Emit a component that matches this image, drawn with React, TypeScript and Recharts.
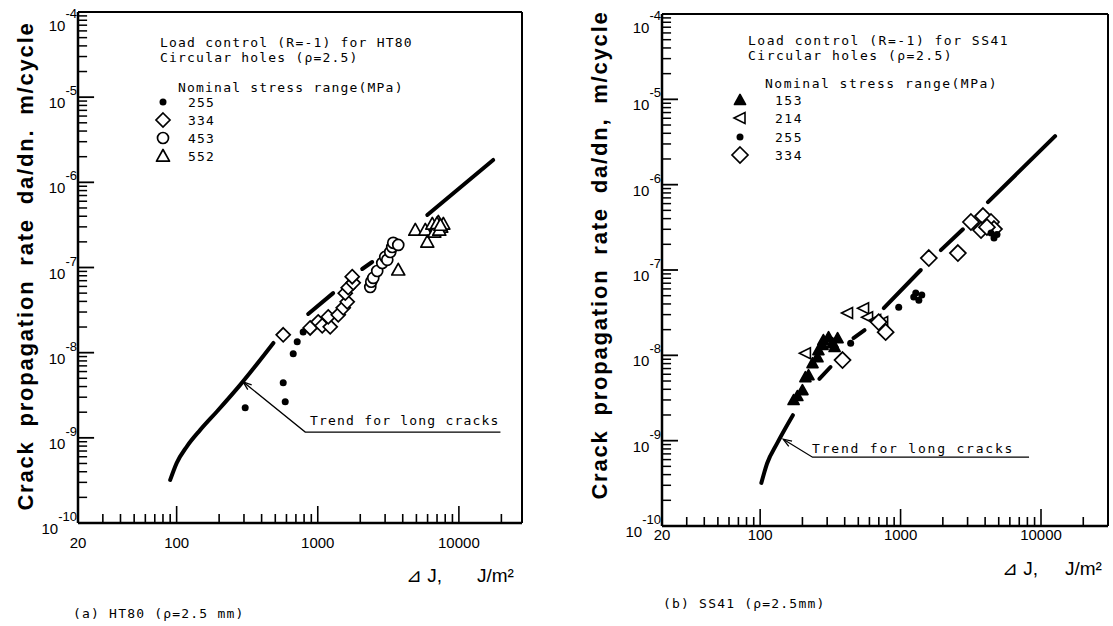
import React from 'react';
import { ComposedChart, Scatter, Line, XAxis, YAxis, ReferenceLine } from 'recharts';

type Pt = { x: number; y: number };

// axis ticks
const xLabelTicks = [20, 100, 1000, 10000];
const xMajorTicks = [100, 1000, 10000];
const xMinorTicks = [30, 40, 50, 60, 70, 80, 90, 200, 300, 400, 500, 600, 700, 800, 900,
  2000, 3000, 4000, 5000, 6000, 7000, 8000, 9000, 20000];
const yExponents = [-10, -9, -8, -7, -6, -5, -4];
const yMantissas = [2, 3, 4, 5, 6, 7, 8, 9];

// (a) HT80 — nominal stress range (MPa)
const ht80_255: Pt[] = [
  { x: 306, y: 2.25e-9 }, { x: 569, y: 4.43e-9 }, { x: 588, y: 2.65e-9 }, { x: 670, y: 9.7e-9 },
  { x: 715, y: 1.34e-8 }, { x: 788, y: 1.75e-8 }, { x: 855, y: 1.95e-8 }, { x: 914, y: 2.12e-8 },
];
const ht80_334: Pt[] = [
  { x: 569, y: 1.62e-8 }, { x: 883, y: 1.95e-8 }, { x: 1007, y: 2.3e-8 }, { x: 1075, y: 2.07e-8 },
  { x: 1225, y: 2.01e-8 }, { x: 1186, y: 2.63e-8 }, { x: 1397, y: 2.78e-8 }, { x: 1515, y: 3.36e-8 },
  { x: 1617, y: 3.95e-8 }, { x: 1566, y: 5.0e-8 }, { x: 1643, y: 5.8e-8 }, { x: 1783, y: 6.6e-8 },
  { x: 1754, y: 7.8e-8 },
];
const ht80_453: Pt[] = [
  { x: 2355, y: 5.9e-8 }, { x: 2393, y: 6.8e-8 }, { x: 2473, y: 7.55e-8 }, { x: 2638, y: 9.1e-8 },
  { x: 2864, y: 1.13e-7 }, { x: 3006, y: 1.33e-7 }, { x: 3109, y: 1.23e-7 }, { x: 3263, y: 1.52e-7 },
  { x: 3371, y: 1.74e-7 }, { x: 3426, y: 1.95e-7 }, { x: 3718, y: 1.84e-7 },
];
const ht80_552: Pt[] = [
  { x: 3718, y: 9.4e-8 }, { x: 4910, y: 2.76e-7 }, { x: 5780, y: 2.76e-7 }, { x: 5970, y: 2.0e-7 },
  { x: 6480, y: 3.25e-7 }, { x: 6920, y: 3.08e-7 }, { x: 7150, y: 3.43e-7 }, { x: 7500, y: 3.0e-7 },
  { x: 7760, y: 3.25e-7 }, { x: 6700, y: 2.62e-7 }, { x: 7260, y: 2.76e-7 }, { x: 7000, y: 3.3e-7 },
  { x: 7400, y: 3.15e-7 },
];
const ht80Trend1: Pt[] = [
  { x: 90, y: 3.2e-10 }, { x: 100, y: 5.05e-10 }, { x: 118, y: 7.9e-10 }, { x: 147, y: 1.24e-9 },
  { x: 193, y: 2.04e-9 }, { x: 282, y: 4.19e-9 }, { x: 485, y: 1.3e-8 },
];
const ht80Trend2: Pt[] = [{ x: 855, y: 2.85e-8 }, { x: 1285, y: 5.0e-8 }];
const ht80Trend3: Pt[] = [{ x: 2065, y: 9.6e-8 }, { x: 2430, y: 1.16e-7 }];
const ht80Trend4: Pt[] = [{ x: 5970, y: 4.14e-7 }, { x: 17500, y: 1.83e-6 }];
const ht80Leader: Pt[] = [{ x: 296, y: 4.54e-9 }, { x: 815, y: 1.17e-9 }, { x: 19700, y: 1.17e-9 }];

// (b) SS41 — nominal stress range (MPa)
const ss41_153: Pt[] = [
  { x: 173, y: 2.99e-9 }, { x: 184, y: 3.33e-9 }, { x: 200, y: 3.91e-9 }, { x: 210, y: 5.55e-9 },
  { x: 221, y: 5.86e-9 }, { x: 236, y: 8.1e-9 }, { x: 256, y: 9.5e-9 }, { x: 260, y: 1.15e-8 },
  { x: 278, y: 1.32e-8 }, { x: 282, y: 1.51e-8 }, { x: 307, y: 1.63e-8 }, { x: 328, y: 1.39e-8 },
  { x: 339, y: 1.25e-8 }, { x: 356, y: 1.59e-8 },
];
const ss41_214: Pt[] = [
  { x: 210, y: 1.06e-8 }, { x: 419, y: 3.13e-8 }, { x: 545, y: 3.57e-8 }, { x: 582, y: 2.8e-8 },
  { x: 664, y: 2.59e-8 }, { x: 745, y: 2.45e-8 },
];
const ss41_255: Pt[] = [
  { x: 441, y: 1.39e-8 }, { x: 970, y: 3.67e-8 }, { x: 1241, y: 4.81e-8 }, { x: 1349, y: 4.43e-8 },
  { x: 1283, y: 5.36e-8 }, { x: 1416, y: 5.08e-8 }, { x: 4406, y: 2.71e-7 }, { x: 4627, y: 2.37e-7 },
  { x: 4860, y: 2.6e-7 },
];
const ss41_334: Pt[] = [
  { x: 386, y: 8.8e-9 }, { x: 783, y: 1.87e-8 }, { x: 698, y: 2.45e-8 }, { x: 1589, y: 1.38e-7 },
  { x: 2559, y: 1.58e-7 }, { x: 3170, y: 3.65e-7 }, { x: 3862, y: 4.29e-7 }, { x: 3740, y: 2.94e-7 },
  { x: 4406, y: 3.65e-7 }, { x: 4627, y: 3.02e-7 }, { x: 4121, y: 3.18e-7 },
];
const ss41Trend1: Pt[] = [
  { x: 102, y: 3.2e-10 }, { x: 112, y: 5.4e-10 }, { x: 132, y: 9.3e-10 }, { x: 171, y: 1.99e-9 },
];
const ss41Trend2: Pt[] = [{ x: 264, y: 5.3e-9 }, { x: 317, y: 7.3e-9 }];
const ss41Trend3: Pt[] = [{ x: 462, y: 1.59e-8 }, { x: 554, y: 1.97e-8 }];
const ss41Trend4: Pt[] = [{ x: 759, y: 3.57e-8 }, { x: 1393, y: 1.0e-7 }];
const ss41Trend5: Pt[] = [{ x: 1935, y: 1.71e-7 }, { x: 2780, y: 3.0e-7 }];
const ss41Trend6: Pt[] = [{ x: 4190, y: 6.25e-7 }, { x: 12600, y: 3.7e-6 }];
const ss41Leader: Pt[] = [{ x: 146, y: 1.04e-9 }, { x: 236, y: 6.4e-10 }, { x: 8220, y: 6.4e-10 }];

const MONO = '"DejaVu Sans Mono", "Liberation Mono", monospace';
const SANS = '"Liberation Sans", Arial, sans-serif';

const yMajor = yExponents.map((e) => Math.pow(10, e));
const yMinor: number[] = [];
yExponents.slice(0, -1).forEach((e) => yMantissas.forEach((m) => yMinor.push(m * Math.pow(10, e))));
const xTicks = [...xLabelTicks, ...xMinorTicks];

// marker shapes
const Dot = ({ cx, cy }: any) => <circle cx={cx} cy={cy} r={3.5} fill="#000" />;
const Diamond = ({ cx, cy, s = 7 }: any) => (
  <path d={`M${cx},${cy - s}L${cx + s},${cy}L${cx},${cy + s}L${cx - s},${cy}Z`} fill="#fff" stroke="#000" strokeWidth={1.7} />
);
const Ring = ({ cx, cy }: any) => <circle cx={cx} cy={cy} r={5.5} fill="#fff" stroke="#000" strokeWidth={1.7} />;
const TriUp = ({ cx, cy, filled = false, s = 6.5 }: any) => (
  <path d={`M${cx},${cy - s}L${cx + s},${cy + s * 0.8}L${cx - s},${cy + s * 0.8}Z`}
    fill={filled ? '#000' : '#fff'} stroke="#000" strokeWidth={1.7} strokeLinejoin="round" />
);
const TriLeft = ({ cx, cy }: any) => (
  <path d={`M${cx - 6},${cy}L${cx + 5},${cy - 5.5}L${cx + 5},${cy + 5.5}Z`} fill="#fff" stroke="#000" strokeWidth={1.6} />
);

const makeXTick = (labelOffset: number) => ({ x, y, payload }: any) => {
  const v = payload.value;
  const len = xMajorTicks.includes(v) ? 17 : v === 20 ? 0 : 9;
  return (
    <g>
      {len > 0 && <line x1={x} x2={x} y1={y} y2={y - len} stroke="#000" strokeWidth={1.6} />}
      {xLabelTicks.includes(v) && (
        <text x={x} y={y + labelOffset} textAnchor="middle" fontSize={15} fontFamily={SANS} fill="#000">{v}</text>
      )}
    </g>
  );
};

// decade label: "10" with the exponent raised to its right
const YLabel = ({ x, y, payload }: any) => {
  const exp = yExponents[yMajor.indexOf(payload.value)];
  const shift = exp === -4 ? 8 : 0;
  return (
    <text x={x - 1} y={y + 11 + shift} textAnchor="end" fontFamily={SANS} fill="#000">
      <tspan fontSize={15}>10</tspan>
      <tspan fontSize={13} dy={-13}>{String(exp)}</tspan>
    </text>
  );
};

const Arrow = (angle: number) => (p: any) => {
  if (p.index !== 0) return <g key={p.key} />;
  const a = (angle * Math.PI) / 180;
  const l = 9;
  const p1 = [p.cx + l * Math.cos(a - 0.35), p.cy + l * Math.sin(a - 0.35)];
  const p2 = [p.cx + l * Math.cos(a + 0.35), p.cy + l * Math.sin(a + 0.35)];
  return <path key={p.key} d={`M${p1[0]},${p1[1]}L${p.cx},${p.cy}L${p2[0]},${p2[1]}`} fill="none" stroke="#000" strokeWidth={1.3} />;
};

const trendProps = { dataKey: 'y', stroke: '#000', strokeWidth: 4, dot: false, isAnimationActive: false, type: 'monotone' as const, strokeLinecap: 'round' as const };

const Panel = (props: {
  left: number; top: number; width: number; plotHeight: number; xMax: number; labelOffset: number;
  series: { data: Pt[]; shape: any }[]; trends: Pt[][]; leader: Pt[]; arrowAngle: number;
}) => (
  <div style={{ position: 'absolute', left: props.left, top: 0 }}>
    <ComposedChart width={props.width} height={props.top + props.plotHeight + 37}
      margin={{ top: props.top, right: 5, bottom: 0, left: 0 }}>
      <XAxis type="number" dataKey="x" scale="log" domain={[20, props.xMax]} allowDataOverflow ticks={xTicks}
        interval={0} height={37} tickSize={0} tickMargin={0}
        tick={makeXTick(props.labelOffset)} axisLine={{ stroke: '#000', strokeWidth: 2.5 }} tickLine={false} />
      <YAxis type="number" dataKey="y" scale="log" domain={[1e-10, 1e-4]}
        allowDataOverflow ticks={yMajor} interval={0} width={78} tickSize={0} tickMargin={0}
        tick={<YLabel />} axisLine={{ stroke: '#000', strokeWidth: 2.5 }} tickLine={false} />
      {/* inward y ticks: long at decades, short at 2..9 */}
      {yMajor.map((v) => (
        <ReferenceLine key={'M' + v} segment={[{ x: 20, y: v }, { x: 26, y: v }]} stroke="#000" strokeWidth={1.8} />
      ))}
      {yMinor.map((v) => (
        <ReferenceLine key={'m' + v} segment={[{ x: 20, y: v }, { x: 23.2, y: v }]} stroke="#000" strokeWidth={1.5} />
      ))}
      <ReferenceLine y={1e-4} stroke="#000" strokeWidth={2} />
      <ReferenceLine x={props.xMax} stroke="#000" strokeWidth={2} />
      {props.trends.map((t, i) => <Line key={'t' + i} data={t} {...trendProps} />)}
      <Line data={props.leader} dataKey="y" type="linear" stroke="#000" strokeWidth={1.3}
        dot={Arrow(props.arrowAngle)} isAnimationActive={false} />
      {props.series.map((s, i) => (
        <Scatter key={'s' + i} data={s.data} shape={s.shape} isAnimationActive={false} />
      ))}
    </ComposedChart>
  </div>
);

const Txt = ({ x, y, children, size = 13, font = MONO, ls = 1.2, weight = 400 }: any) => (
  <div style={{ position: 'absolute', left: x, top: y, transform: 'translateY(-50%)', fontFamily: font, fontSize: size,
    letterSpacing: ls, fontWeight: weight, whiteSpace: 'pre', lineHeight: 1, color: '#000' }}>{children}</div>
);

const Icon = ({ x, y, children }: any) => (
  <svg style={{ position: 'absolute', left: x - 10, top: y - 10 }} width={20} height={20}>{children}</svg>
);

const YTitle = ({ cx, cy, text }: any) => (
  <div style={{ position: 'absolute', left: cx, top: cy, transform: 'translate(-50%, -50%) rotate(-90deg)',
    fontFamily: SANS, fontWeight: 700, fontSize: 22, letterSpacing: 1.8, wordSpacing: 6, whiteSpace: 'pre', color: '#000' }}>{text}</div>
);

const App = () => (
  <div style={{ position: 'absolute', left: 0, top: 0, width: 1113, height: 626, background: '#fff', overflow: 'hidden' }}>
    <Panel left={0} top={12} width={527} plotHeight={511} xMax={28000} labelOffset={25} arrowAngle={39}
      series={[
        { data: ht80_255, shape: (p: any) => <Dot {...p} /> },
        { data: ht80_334, shape: (p: any) => <Diamond {...p} /> },
        { data: ht80_453, shape: (p: any) => <Ring {...p} /> },
        { data: ht80_552, shape: (p: any) => <TriUp {...p} /> },
      ]}
      trends={[ht80Trend1, ht80Trend2, ht80Trend3, ht80Trend4]} leader={ht80Leader} />
    <Panel left={584} top={14} width={529} plotHeight={512} xMax={30000} labelOffset={14} arrowAngle={32}
      series={[
        { data: ss41_153, shape: (p: any) => <TriUp {...p} filled s={5.5} /> },
        { data: ss41_214, shape: (p: any) => <TriLeft {...p} /> },
        { data: ss41_334, shape: (p: any) => <Diamond {...p} s={8} /> },
        { data: ss41_255, shape: (p: any) => <Dot {...p} /> },
      ]}
      trends={[ss41Trend1, ss41Trend2, ss41Trend3, ss41Trend4, ss41Trend5, ss41Trend6]} leader={ss41Leader} />

    {/* (a) texts */}
    <YTitle cx={26} cy={266} text="Crack propagation rate da/dn. m/cycle" />
    <Txt x={160} y={42}>Load control (R=-1) for HT80</Txt>
    <Txt x={160} y={57}>Circular holes (ρ=2.5)</Txt>
    <Txt x={178} y={87}>Nominal stress range(MPa)</Txt>
    <Icon x={163} y={102}><Dot cx={10} cy={10} /></Icon>
    <Icon x={163} y={120}><Diamond cx={10} cy={10} /></Icon>
    <Icon x={163} y={138}><Ring cx={10} cy={10} /></Icon>
    <Icon x={163} y={156}><TriUp cx={10} cy={10} /></Icon>
    <Txt x={188} y={102}>255</Txt>
    <Txt x={188} y={120}>334</Txt>
    <Txt x={188} y={138}>453</Txt>
    <Txt x={188} y={156}>552</Txt>
    <Txt x={310} y={420}>Trend for long cracks</Txt>
    <Txt x={406} y={575} size={19} font={SANS} ls={0}>⊿ J,</Txt>
    <Txt x={477} y={575} size={19} font={SANS} ls={0}>J/m²</Txt>
    <Txt x={73} y={613}>(a) HT80 (ρ=2.5 mm)</Txt>

    {/* (b) texts */}
    <YTitle cx={600} cy={255} text="Crack propagation rate da/dn, m/cycle" />
    <Txt x={748} y={40} ls={1.5}>Load control (R=-1) for SS41</Txt>
    <Txt x={748} y={55} ls={1.5}>Circular holes (ρ=2.5)</Txt>
    <Txt x={765} y={83} ls={1.5}>Nominal stress range(MPa)</Txt>
    <Icon x={740} y={100}><TriUp cx={10} cy={10} filled s={5.5} /></Icon>
    <Icon x={740} y={118}><TriLeft cx={10} cy={10} /></Icon>
    <Icon x={740} y={137}><Dot cx={10} cy={10} /></Icon>
    <Icon x={740} y={155}><Diamond cx={10} cy={10} s={8} /></Icon>
    <Txt x={775} y={100} ls={1.5}>153</Txt>
    <Txt x={775} y={118} ls={1.5}>214</Txt>
    <Txt x={775} y={137} ls={1.5}>255</Txt>
    <Txt x={775} y={155} ls={1.5}>334</Txt>
    <Txt x={812} y={448} ls={1.8}>Trend for long cracks</Txt>
    <Txt x={1002} y={568} size={19} font={SANS} ls={0}>⊿ J,</Txt>
    <Txt x={1065} y={568} size={19} font={SANS} ls={0}>J/m²</Txt>
    <Txt x={663} y={603}>(b) SS41 (ρ=2.5mm)</Txt>
  </div>
);

export default App;
